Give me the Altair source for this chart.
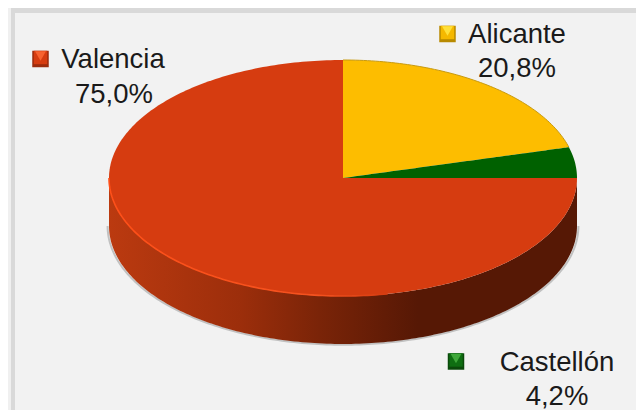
import math
import altair as alt
import pandas as pd

# ---- chart values
provinces = ["Alicante", "Castellón", "Valencia"]
shares = [20.8, 4.2, 75.0]
slice_colors = ["#fdbd00", "#006100", "#d63c10"]
labels_pct = ["20,8%", "4,2%", "75,0%"]

# ---- layout (pixels inside the chart; the page adds an 8px margin)
W, H = 628, 402
CX, CY, RX, RY, DEPTH = 335, 170, 234, 118, 48
D = DEPTH / RY

x_scale = alt.Scale(domain=[-CX / RX, (W - CX) / RX], range=[0, W], nice=False, zero=False)
y_scale = alt.Scale(domain=[(CY - H) / RY, CY / RY], range=[H, 0], nice=False, zero=False)
X = alt.X("x:Q", scale=x_scale, axis=None)
Y = alt.Y("y:Q", scale=y_scale, axis=None)
Y2 = alt.Y2(field="y2")
O = alt.Order("i:Q")

N = 180
xs = [-math.cos(math.pi * k / N) for k in range(N + 1)]


def circ(x):
    return math.sqrt(max(0.0, 1 - x * x))


a_split = math.radians(90 - 360 * shares[0] / 100)
c_split, tan_split = math.cos(a_split), math.tan(a_split)
right_xs = [math.sin(math.pi / 2 * k / 90) for k in range(91)]
right_xs = sorted(set(right_xs + [c_split]))

side = pd.DataFrame([{"i": i, "x": x, "y": -circ(x) - D, "y2": -circ(x)} for i, x in enumerate(xs)])
val_left = pd.DataFrame([{"x": x, "y": circ(x), "y2": -circ(x)} for x in xs if x <= 0])
val_right = pd.DataFrame([{"x": x, "y": 0.0, "y2": -circ(x)} for x in xs if x >= -1e-9])
alicante = pd.DataFrame([{"x": x, "y": circ(x), "y2": x * tan_split} for x in right_xs if x <= c_split])
castellon = pd.DataFrame([{"x": x, "y": min(x * tan_split, circ(x)), "y2": 0.0} for x in right_xs])
rim = pd.DataFrame([{"i": i, "x": x, "y": -circ(x)} for i, x in enumerate(xs) if x <= 0.2])
shadow = pd.DataFrame([{"i": i, "x": x * 1.006, "y": -circ(x) * 1.006 - D} for i, x in enumerate(xs)])
alicante_edge = pd.DataFrame([{"i": i, "x": x, "y": circ(x)} for i, x in enumerate(right_xs) if x <= c_split])

one = pd.DataFrame({"a": [0]})


def band(x0, x1, y0, y1, color):
    return alt.Chart(one).mark_rect(color=color).encode(
        x=alt.value(x0), x2=alt.value(x1), y=alt.value(y0), y2=alt.value(y1)
    )


def area(df, color):
    return alt.Chart(df).mark_area(color=color, orient="vertical").encode(x=X, y=Y, y2=Y2)


side_gradient = alt.Gradient(
    gradient="linear", x1=0, x2=1, y1=0, y2=0,
    stops=[
        alt.GradientStop(offset=0.0, color="#bb3a10"),
        alt.GradientStop(offset=0.28, color="#9c2e0b"),
        alt.GradientStop(offset=0.45, color="#7a2408"),
        alt.GradientStop(offset=0.66, color="#561805"),
        alt.GradientStop(offset=1.0, color="#561805"),
    ],
)
rim_gradient = alt.Gradient(
    gradient="linear", x1=0, x2=1, y1=0, y2=0,
    stops=[
        alt.GradientStop(offset=0.0, color="#ff4f18"),
        alt.GradientStop(offset=0.75, color="#f4521f"),
        alt.GradientStop(offset=1.0, color="#d63c10"),
    ],
)


def marker(cx, cy, dark, mid, light):
    d = pd.DataFrame({"a": [0]})
    base = alt.Chart(d).mark_point(shape="square", filled=True, size=272, color=dark, opacity=1).encode(
        x=alt.value(cx), y=alt.value(cy))
    inner = alt.Chart(d).mark_point(shape="square", filled=True, size=180, color=mid, opacity=1).encode(
        x=alt.value(cx), y=alt.value(cy - 1.5))
    top = alt.Chart(d).mark_point(shape="triangle-down", filled=True, size=120, color=light, opacity=1).encode(
        x=alt.value(cx), y=alt.value(cy - 3))
    return base + inner + top


def label(text, cx, baseline_y):
    return alt.Chart(one).mark_text(
        align="center", baseline="alphabetic", font="Liberation Sans", fontSize=27.5, color="#1a1a1a"
    ).encode(x=alt.value(cx), y=alt.value(baseline_y), text=alt.value(text))


layers = [
    band(0, W, 0, 5, "#d9d9d9"),
    band(0, 3, 0, H, "#f0f0f0"),
    band(3, 7, 0, H, "#d9d9d9"),
    alt.Chart(shadow).mark_line(color="#777777", strokeWidth=2, opacity=0.4).encode(x=X, y=Y, order=O),
    area(side, side_gradient),
    area(val_left, slice_colors[2]),
    area(val_right, slice_colors[2]),
    area(alicante, slice_colors[0]),
    area(castellon, slice_colors[1]),
    alt.Chart(alicante_edge).mark_line(color="#c89a10", strokeWidth=1).encode(x=X, y=Y, order=O),
    alt.Chart(rim).mark_line(color=rim_gradient, strokeWidth=1.6).encode(x=X, y=Y, order=O),
    marker(32.5, 51, "#9c2c0d", "#d63c10", "#f7622f"),
    marker(439.5, 26, "#b88a00", "#f5b800", "#ffe03a"),
    marker(448, 353.5, "#0b4a0b", "#0f6e12", "#3fa83a"),
    label(provinces[2], 105, 60),
    label(labels_pct[2], 106, 95),
    label(provinces[0], 509, 35),
    label(labels_pct[0], 509, 69),
    label(provinces[1], 549, 363),
    label(labels_pct[1], 549, 397),
]

chart = alt.layer(*layers).properties(
    width=W, height=H, background="#f2f2f2", padding=0,
    autosize=alt.AutoSizeParams(type="none"),
).configure_view(stroke=None)

chart.save("out.html", embed_options={"renderer": "svg", "actions": False})
